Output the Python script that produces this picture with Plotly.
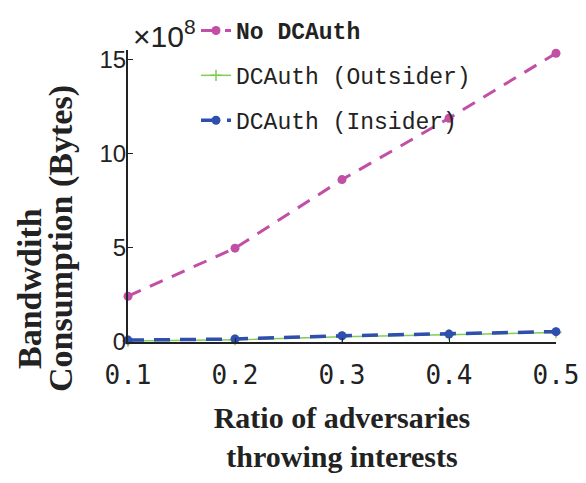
import plotly.graph_objects as go

ratios = [0.1, 0.2, 0.3, 0.4, 0.5]
no_dcauth = [2.43, 4.98, 8.62, 11.88, 15.33]
outsider = [0.05, 0.12, 0.28, 0.38, 0.5]
insider = [0.1, 0.16, 0.33, 0.42, 0.55]
x_ticks = [0.1, 0.2, 0.3, 0.4, 0.5]
y_ticks = [0, 5, 10, 15]

# page body has an 8px margin; plot area on page: x 128..556, y 50..342
W, H = 578, 467
PL, PT, PW, PH = 128, 50, 428, 292


def px(X):
    return (X - PL) / PW


def py(Y):
    return (PT + PH - Y) / PH


fig = go.Figure()
fig.add_trace(go.Scatter(x=ratios, y=no_dcauth, name="<b>No DCAuth</b>", mode="lines+markers",
                         line=dict(color="#c24fa6", width=3, dash="14px,10px"),
                         marker=dict(size=9, color="#c24fa6"), cliponaxis=False, legendgroup="a"))
fig.add_trace(go.Scatter(x=ratios, y=outsider, name="DCAuth (Outsider)", mode="lines+markers",
                         line=dict(color="#82cc55", width=1.5),
                         marker=dict(symbol="cross-thin", size=8, color="#82cc55", line=dict(color="#82cc55", width=1.5)),
                         cliponaxis=False, legendgroup="b"))
fig.add_trace(go.Scatter(x=ratios, y=insider, name="DCAuth (Insider)", mode="lines+markers",
                         line=dict(color="#2f4fae", width=3.5, dash="16px,10px"),
                         marker=dict(size=9, color="#2f4fae"), cliponaxis=False, legendgroup="c"))

fig.update_layout(
    width=W, height=H,
    margin=dict(l=PL - 8, r=W - (PL - 8) - PW, t=PT - 8, b=H - (PT - 8) - PH, autoexpand=False),
    plot_bgcolor="white", paper_bgcolor="white",
    showlegend=True,
    legend=dict(x=px(196), y=py(9), xanchor="left", yanchor="top", bgcolor="rgba(0,0,0,0)",
                font=dict(family="Liberation Mono", size=23, color="#222"),
                tracegroupgap=12, itemwidth=30),
    xaxis=dict(range=[0.1, 0.5], tickvals=x_ticks, ticktext=[f"{v:.1f}" for v in x_ticks],
               automargin=False,
               showgrid=False, zeroline=False, showline=True, linecolor="#222", linewidth=2,
               ticks="inside", ticklen=4, tickcolor="#222", ticklabelstandoff=9,
               tickfont=dict(family="DejaVu Sans Mono", size=26, color="#222"),
               title=dict(text="<b>Ratio of adversaries<br>throwing interests</b>",
                          font=dict(family="Liberation Serif", size=30, color="#222"), standoff=18)),
    yaxis=dict(range=[0, 15.5], tickvals=y_ticks, ticktext=[str(v) for v in y_ticks],
               automargin=False,
               showgrid=False, zeroline=False, showline=True, linecolor="#222", linewidth=2,
               ticks="inside", ticklen=5, tickcolor="#222", ticklabelstandoff=-5,
               tickfont=dict(family="Liberation Sans", size=24, color="#222")),
)
fig.add_annotation(xref="paper", yref="paper", x=px(29), y=py(289), xanchor="center", yanchor="middle",
                   text="<b>Bandwdith</b>", textangle=-90, showarrow=False,
                   font=dict(family="Liberation Serif", size=34, color="#222"))
fig.add_annotation(xref="paper", yref="paper", x=px(61), y=py(239), xanchor="center", yanchor="middle",
                   text="<b>Consumption (Bytes)</b>", textangle=-90, showarrow=False,
                   font=dict(family="Liberation Serif", size=34, color="#222"))
fig.add_annotation(xref="paper", yref="paper", x=px(131), y=py(55), xanchor="left", yanchor="bottom",
                   text="×10<sup>8</sup>", showarrow=False,
                   font=dict(family="Liberation Sans", size=30, color="#222"))
fig.write_html("out.html")
